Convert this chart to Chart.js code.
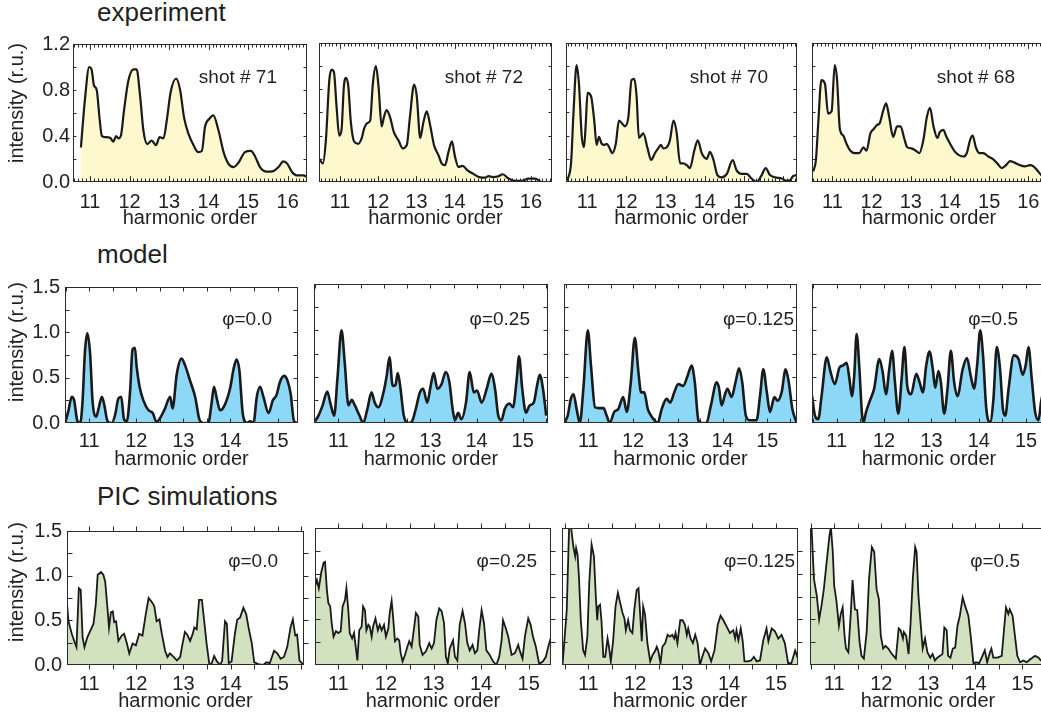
<!DOCTYPE html>
<html>
<head>
<meta charset="utf-8">
<script src="https://cdn.jsdelivr.net/npm/chart.js@4.4.1/dist/chart.umd.min.js"></script>
<style>
  body { margin: 0; width: 1041px; height: 720px; overflow: hidden; background: #fff; position: relative;
         font-family: "Liberation Sans", Arial, sans-serif; color: #231f20; }
  canvas { position: absolute; }
  .titulo { position: absolute; left: 97px; font-size: 26px; line-height: 26px; white-space: nowrap; }
</style>
</head>
<body>
<div class="titulo" style="top:-1px">experiment</div>
<div class="titulo" style="top:241px">model</div>
<div class="titulo" style="top:483px">PIC simulations</div>

<script>
// ejes
const ejeXExp = [11, 12, 13, 14, 15, 16];
const ejeXSim = [11, 12, 13, 14, 15];
const ejeYExp = [0, 0.4, 0.8, 1.2];
const ejeYSim = [0, 0.5, 1.0, 1.5];

// experimento: [orden armónico, intensidad]
const exp71 = [[10.77,0.30],[10.87,0.71],[10.98,1.00],[11.04,0.98],[11.10,0.84],[11.17,0.80],[11.24,0.56],[11.30,0.40],[11.38,0.39],[11.51,0.385],[11.59,0.35],[11.66,0.40],[11.72,0.38],[11.78,0.40],[11.86,0.62],[11.97,0.88],[12.10,0.98],[12.18,0.98],[12.27,0.74],[12.35,0.45],[12.45,0.33],[12.56,0.36],[12.67,0.32],[12.76,0.39],[12.86,0.38],[12.94,0.53],[13.04,0.78],[13.18,0.90],[13.28,0.80],[13.38,0.56],[13.49,0.42],[13.62,0.32],[13.74,0.26],[13.83,0.27],[13.91,0.48],[14.02,0.55],[14.12,0.58],[14.25,0.45],[14.38,0.26],[14.50,0.16],[14.63,0.13],[14.76,0.17],[14.92,0.26],[15.07,0.27],[15.18,0.22],[15.30,0.13],[15.47,0.09],[15.64,0.095],[15.77,0.13],[15.89,0.18],[15.99,0.16],[16.11,0.087],[16.23,0.058],[16.40,0.058],[16.50,0.04]];
const exp72 = [[10.46,0.20],[10.55,0.16],[10.63,0.36],[10.72,0.88],[10.78,0.97],[10.84,0.95],[10.91,0.65],[10.98,0.40],[11.04,0.45],[11.10,0.82],[11.16,0.90],[11.22,0.82],[11.28,0.53],[11.37,0.35],[11.48,0.33],[11.57,0.38],[11.63,0.46],[11.72,0.51],[11.79,0.53],[11.86,0.85],[11.94,1.00],[12.01,0.82],[12.09,0.48],[12.15,0.56],[12.22,0.62],[12.31,0.56],[12.41,0.43],[12.53,0.36],[12.64,0.29],[12.75,0.32],[12.83,0.56],[12.94,0.84],[13.01,0.74],[13.10,0.38],[13.18,0.51],[13.27,0.61],[13.36,0.49],[13.46,0.32],[13.58,0.23],[13.66,0.16],[13.75,0.145],[13.84,0.26],[13.93,0.35],[14.01,0.22],[14.10,0.13],[14.21,0.14],[14.34,0.10],[14.49,0.07],[14.67,0.04],[14.80,0.038],[14.89,0.05],[15.00,0.043],[15.15,0.05],[15.26,0.067],[15.41,0.03],[15.59,0.01],[15.76,0.01],[15.93,0.03],[16.11,0.03],[16.28,0.0],[16.55,0.0]];
const exp70 = [[10.45,0.01],[10.52,0.04],[10.59,0.17],[10.65,0.59],[10.73,1.01],[10.79,0.85],[10.86,0.40],[10.92,0.30],[10.96,0.48],[11.01,0.77],[11.10,0.74],[11.18,0.53],[11.24,0.32],[11.30,0.39],[11.37,0.33],[11.44,0.32],[11.50,0.33],[11.56,0.30],[11.64,0.25],[11.73,0.33],[11.81,0.53],[11.88,0.51],[11.96,0.48],[12.05,0.56],[12.13,0.88],[12.20,0.89],[12.26,0.74],[12.32,0.38],[12.43,0.42],[12.54,0.29],[12.63,0.19],[12.73,0.25],[12.81,0.29],[12.88,0.32],[12.94,0.29],[13.03,0.30],[13.11,0.36],[13.20,0.53],[13.28,0.43],[13.37,0.16],[13.45,0.16],[13.54,0.145],[13.62,0.12],[13.73,0.27],[13.82,0.36],[13.92,0.25],[14.05,0.20],[14.13,0.26],[14.22,0.19],[14.32,0.06],[14.43,0.04],[14.56,0.07],[14.71,0.19],[14.81,0.10],[14.94,0.07],[15.07,0.07],[15.19,0.03],[15.32,0.0],[15.45,0.06],[15.55,0.12],[15.66,0.06],[15.79,0.04],[15.96,0.03],[16.08,0.01],[16.17,0.015],[16.25,0.05],[16.34,0.06]];
const exp68 = [[10.51,0.09],[10.58,0.19],[10.64,0.51],[10.72,0.88],[10.81,0.85],[10.89,0.59],[10.98,0.61],[11.06,1.01],[11.12,0.88],[11.19,0.46],[11.28,0.40],[11.36,0.33],[11.46,0.27],[11.57,0.25],[11.69,0.25],[11.79,0.30],[11.87,0.27],[11.97,0.42],[12.06,0.46],[12.13,0.49],[12.21,0.51],[12.30,0.62],[12.37,0.68],[12.45,0.56],[12.55,0.39],[12.65,0.48],[12.74,0.48],[12.83,0.38],[12.91,0.30],[13.02,0.29],[13.13,0.27],[13.22,0.25],[13.32,0.36],[13.41,0.56],[13.49,0.64],[13.58,0.48],[13.68,0.38],[13.74,0.43],[13.83,0.45],[13.91,0.39],[14.02,0.32],[14.13,0.26],[14.24,0.23],[14.34,0.22],[14.43,0.25],[14.51,0.36],[14.58,0.40],[14.66,0.30],[14.75,0.25],[14.85,0.25],[14.98,0.22],[15.09,0.20],[15.21,0.16],[15.32,0.12],[15.43,0.145],[15.53,0.18],[15.66,0.165],[15.79,0.145],[15.91,0.135],[16.04,0.145],[16.13,0.135],[16.23,0.10],[16.33,0.06],[16.45,0.04]];

// modelo
const mod00 = [[10.49,0],[10.56,0.14],[10.63,0.29],[10.68,0.25],[10.75,0.02],[10.81,0],[10.86,0.25],[10.91,0.79],[10.96,0.99],[11.02,0.76],[11.07,0.25],[11.15,0.07],[11.20,0.16],[11.27,0.29],[11.32,0.20],[11.39,0.02],[11.48,0],[11.55,0.09],[11.62,0.27],[11.68,0.29],[11.74,0.04],[11.80,0.02],[11.87,0.36],[11.92,0.81],[11.97,0.83],[12.01,0.61],[12.07,0.40],[12.15,0.25],[12.26,0.14],[12.35,0.11],[12.43,0.01],[12.50,0.05],[12.61,0.16],[12.72,0.29],[12.77,0.16],[12.86,0.54],[12.96,0.71],[13.04,0.63],[13.14,0.47],[13.25,0.29],[13.34,0.04],[13.42,0],[13.53,0],[13.60,0.22],[13.65,0.40],[13.71,0.27],[13.78,0.14],[13.88,0.20],[14.00,0.40],[14.06,0.58],[14.13,0.70],[14.19,0.58],[14.26,0.11],[14.35,0],[14.42,0.02],[14.49,0],[14.56,0.29],[14.63,0.40],[14.70,0.29],[14.81,0.11],[14.90,0.25],[14.98,0.31],[15.05,0.45],[15.14,0.52],[15.21,0.47],[15.28,0.32],[15.35,0.02],[15.43,0]];
const mod025 = [[10.47,0],[10.57,0.08],[10.66,0.19],[10.76,0.34],[10.83,0.21],[10.91,0.08],[10.98,0.47],[11.07,1.00],[11.14,0.65],[11.22,0.19],[11.29,0.25],[11.36,0.19],[11.46,0.08],[11.54,0],[11.63,0.15],[11.72,0.33],[11.79,0.22],[11.87,0.17],[11.98,0.33],[12.05,0.51],[12.11,0.71],[12.18,0.40],[12.24,0.41],[12.29,0.54],[12.35,0.37],[12.42,0.08],[12.52,0],[12.59,0.01],[12.68,0.15],[12.77,0.33],[12.84,0.37],[12.93,0.22],[13.00,0.39],[13.07,0.54],[13.15,0.37],[13.24,0.42],[13.33,0.55],[13.41,0.44],[13.48,0.15],[13.53,0.03],[13.60,0.11],[13.67,0.04],[13.77,0.22],[13.85,0.55],[13.94,0.33],[14.01,0.35],[14.11,0.22],[14.22,0.37],[14.32,0.53],[14.40,0.37],[14.47,0.08],[14.54,0.03],[14.61,0.15],[14.71,0.21],[14.79,0.17],[14.87,0.47],[14.92,0.72],[14.99,0.37],[15.07,0.11],[15.15,0.19],[15.24,0.22],[15.31,0.40],[15.37,0.52],[15.44,0.37],[15.51,0.08]];
const mod0125 = [[10.46,0],[10.54,0.08],[10.61,0.26],[10.67,0.31],[10.74,0.15],[10.81,0],[10.89,0.37],[10.99,1.00],[11.06,0.62],[11.15,0.17],[11.24,0.16],[11.34,0.16],[11.41,0.08],[11.48,0],[11.58,0.12],[11.67,0.15],[11.78,0.28],[11.86,0.12],[11.95,0.44],[12.04,0.92],[12.12,0.55],[12.18,0.33],[12.25,0.33],[12.33,0.15],[12.43,0.06],[12.55,0],[12.64,0.15],[12.75,0.26],[12.83,0.22],[12.92,0.33],[13.01,0.42],[13.12,0.40],[13.22,0.51],[13.31,0.62],[13.38,0.44],[13.46,0.03],[13.53,0],[13.64,0],[13.74,0.19],[13.87,0.44],[13.92,0.38],[13.98,0.19],[14.05,0.30],[14.11,0.37],[14.20,0.28],[14.29,0.44],[14.37,0.59],[14.44,0.44],[14.52,0.08],[14.61,0.03],[14.76,0.03],[14.84,0.30],[14.91,0.58],[14.99,0.33],[15.06,0.12],[15.16,0.28],[15.23,0.24],[15.32,0.33],[15.41,0.58],[15.48,0.44],[15.56,0.15],[15.66,0]];
const mod05 = [[10.48,0.29],[10.54,0.08],[10.61,0.04],[10.68,0.29],[10.79,0.71],[10.87,0.55],[10.96,0.42],[11.06,0.60],[11.13,0.62],[11.21,0.65],[11.27,0.47],[11.32,0.29],[11.37,0.51],[11.42,0.96],[11.48,0.58],[11.53,0.12],[11.56,0],[11.62,0.12],[11.70,0.24],[11.79,0.37],[11.90,0.69],[11.97,0.55],[12.04,0.31],[12.11,0.58],[12.17,0.78],[12.23,0.44],[12.30,0.10],[12.37,0.47],[12.43,0.82],[12.49,0.40],[12.57,0.31],[12.68,0.53],[12.75,0.44],[12.82,0.33],[12.89,0.62],[12.96,0.77],[13.03,0.58],[13.08,0.38],[13.15,0.56],[13.20,0.44],[13.27,0.10],[13.34,0.37],[13.41,0.78],[13.48,0.44],[13.55,0.29],[13.66,0.58],[13.75,0.70],[13.83,0.51],[13.90,0.37],[13.97,0.65],[14.03,1.00],[14.09,0.73],[14.16,0.15],[14.24,0.01],[14.31,0.26],[14.38,0.82],[14.45,0.58],[14.51,0.15],[14.56,0.08],[14.63,0.37],[14.74,0.73],[14.84,0.69],[14.93,0.52],[14.99,0.62],[15.05,0.82],[15.12,0.47],[15.19,0.12],[15.26,0.03],[15.32,0.24],[15.40,0.40]];

// simulaciones PIC
const pic00 = [[10.52,0.75],[10.56,0.49],[10.63,0.35],[10.70,0.24],[10.73,0.20],[10.78,0.86],[10.82,0.84],[10.86,0.31],[10.90,0.20],[10.96,0.31],[11.02,0.38],[11.09,0.46],[11.14,0.68],[11.18,1.01],[11.25,1.04],[11.30,1.01],[11.34,0.93],[11.39,0.62],[11.42,0.42],[11.46,0.59],[11.50,0.60],[11.53,0.48],[11.57,0.49],[11.62,0.27],[11.69,0.33],[11.74,0.35],[11.80,0.24],[11.85,0.13],[11.92,0.24],[11.99,0.22],[12.06,0.35],[12.13,0.33],[12.20,0.57],[12.26,0.75],[12.32,0.71],[12.38,0.66],[12.43,0.49],[12.49,0.51],[12.54,0.35],[12.61,0.16],[12.66,0.09],[12.71,0.13],[12.79,0.09],[12.86,0.05],[12.93,0.09],[12.98,0.24],[13.03,0.37],[13.08,0.34],[13.14,0.27],[13.19,0.34],[13.23,0.42],[13.28,0.40],[13.33,0.73],[13.39,0.73],[13.44,0.49],[13.49,0.24],[13.55,0],[13.60,0.02],[13.65,0.10],[13.71,0.04],[13.78,0],[13.82,0.05],[13.88,0.49],[13.92,0.46],[13.96,0.02],[14.02,0.04],[14.09,0.35],[14.14,0.51],[14.20,0.53],[14.27,0.64],[14.33,0.57],[14.38,0.42],[14.45,0.24],[14.50,0.03],[14.59,0.01],[14.69,0],[14.76,0.03],[14.83,0.02],[14.92,0.16],[14.99,0.13],[15.06,0.07],[15.13,0.09],[15.20,0.20],[15.27,0.42],[15.32,0.51],[15.37,0.33],[15.41,0.34],[15.46,0.05],[15.53,0.01]];
const pic025 = [[10.51,0.86],[10.55,0.93],[10.59,0.84],[10.64,1.01],[10.69,1.12],[10.72,1.13],[10.76,0.82],[10.79,0.68],[10.83,0.64],[10.86,0.46],[10.90,0.31],[10.95,0.37],[11.00,0.35],[11.05,0.37],[11.09,0.64],[11.14,0.71],[11.17,0.84],[11.21,0.60],[11.24,0.35],[11.29,0.29],[11.33,0.35],[11.37,0.18],[11.40,0.05],[11.44,0.38],[11.49,0.42],[11.52,0.64],[11.56,0.60],[11.59,0.38],[11.63,0.44],[11.66,0.42],[11.70,0.31],[11.73,0.42],[11.78,0.51],[11.83,0.38],[11.87,0.44],[11.91,0.38],[11.96,0.44],[12.00,0.31],[12.05,0.40],[12.08,0.57],[12.12,0.70],[12.15,0.53],[12.19,0.26],[12.24,0.29],[12.28,0.27],[12.31,0.13],[12.35,0.04],[12.40,0.11],[12.45,0.20],[12.49,0.26],[12.54,0.20],[12.59,0.40],[12.63,0.57],[12.68,0.53],[12.71,0.22],[12.77,0.11],[12.84,0.15],[12.91,0.24],[12.96,0.18],[13.01,0.24],[13.06,0.49],[13.12,0.62],[13.17,0.59],[13.22,0.46],[13.26,0.09],[13.30,0.02],[13.34,0.18],[13.41,0.27],[13.45,0.09],[13.50,0.05],[13.55,0.44],[13.61,0.59],[13.66,0.46],[13.71,0.24],[13.76,0.16],[13.82,0.22],[13.87,0.13],[13.92,0.16],[13.96,0.38],[14.01,0.60],[14.06,0.46],[14.11,0.16],[14.18,0.11],[14.25,0.04],[14.32,0],[14.38,0.09],[14.43,0.27],[14.46,0.49],[14.52,0.40],[14.57,0.31],[14.64,0.11],[14.71,0.13],[14.78,0.22],[14.81,0.16],[14.87,0.07],[14.92,0.31],[14.99,0.51],[15.04,0.44],[15.09,0.31],[15.15,0.20],[15.22,0.01],[15.30,0.04],[15.36,0.09],[15.41,0.20],[15.46,0.29]];
const pic0125 = [[10.45,0],[10.54,0.60],[10.59,1.50],[10.63,1.52],[10.68,1.30],[10.72,1.19],[10.74,1.28],[10.77,1.21],[10.80,0.97],[10.84,0.49],[10.89,0.16],[10.93,0.11],[10.98,0.31],[11.02,0.90],[11.07,1.32],[11.12,1.19],[11.16,0.75],[11.19,0.49],[11.21,0.64],[11.25,0.66],[11.28,0.49],[11.32,0.09],[11.36,0.09],[11.41,0.29],[11.44,0.20],[11.48,0.04],[11.53,0.27],[11.58,0.64],[11.63,0.79],[11.68,0.68],[11.73,0.57],[11.77,0.51],[11.80,0.38],[11.85,0.49],[11.89,0.38],[11.94,0.35],[11.98,0.60],[12.03,0.82],[12.07,0.84],[12.10,0.60],[12.14,0.26],[12.17,0.64],[12.21,0.55],[12.26,0.24],[12.32,0.04],[12.37,0.11],[12.42,0.15],[12.46,0.20],[12.49,0.16],[12.54,0.02],[12.58,0.20],[12.64,0.24],[12.69,0.33],[12.74,0.31],[12.79,0.33],[12.83,0.29],[12.86,0.35],[12.90,0.24],[12.96,0.49],[13.01,0.49],[13.06,0.44],[13.10,0.33],[13.13,0.40],[13.18,0.29],[13.23,0.24],[13.28,0.33],[13.33,0.24],[13.38,0],[13.43,0.09],[13.49,0.18],[13.56,0.13],[13.62,0.04],[13.69,0.16],[13.76,0.44],[13.82,0.54],[13.88,0.49],[13.95,0.42],[14.02,0.35],[14.09,0.38],[14.13,0.29],[14.16,0.38],[14.20,0.27],[14.25,0.40],[14.29,0.27],[14.33,0.04],[14.40,0.04],[14.47,0.05],[14.53,0.09],[14.59,0.04],[14.66,0.05],[14.73,0.27],[14.80,0.40],[14.84,0.26],[14.91,0.40],[14.98,0.37],[15.05,0.29],[15.12,0.33],[15.19,0.24],[15.26,0.02],[15.33,0.02],[15.41,0.16],[15.47,0.07]];
const pic05 = [[10.49,1.53],[10.52,1.49],[10.57,0.94],[10.63,0.76],[10.68,0.50],[10.73,0.65],[10.78,0.83],[10.84,1.13],[10.90,1.42],[10.93,1.51],[10.97,1.24],[11.00,0.87],[11.05,0.69],[11.10,0.43],[11.14,0.56],[11.18,0.63],[11.22,0.32],[11.25,0.18],[11.30,0.14],[11.35,0.54],[11.39,0.93],[11.44,0.61],[11.49,0.60],[11.54,0.25],[11.58,0.10],[11.63,0.07],[11.69,0.36],[11.74,0.94],[11.80,1.29],[11.85,1.24],[11.90,0.83],[11.95,0.72],[11.99,0.32],[12.04,0.18],[12.09,0.21],[12.15,0.18],[12.20,0.14],[12.26,0.10],[12.31,0.07],[12.37,0.40],[12.41,0.38],[12.46,0.29],[12.48,0.36],[12.53,0.32],[12.58,0.12],[12.62,0.43],[12.67,0.94],[12.72,1.29],[12.75,1.24],[12.79,0.76],[12.84,0.43],[12.88,0.18],[12.93,0.29],[12.98,0.14],[13.04,0.08],[13.09,0.12],[13.14,0.05],[13.19,0.08],[13.25,0.10],[13.30,0.12],[13.34,0.41],[13.39,0.38],[13.42,0.10],[13.47,0.08],[13.52,0.18],[13.57,0.19],[13.62,0.43],[13.67,0.54],[13.73,0.74],[13.78,0.65],[13.85,0.54],[13.90,0.32],[13.96,0.01],[14.01,0.03],[14.08,0.02],[14.15,0.10],[14.20,0.16],[14.25,0.03],[14.31,0.14],[14.34,0.18],[14.38,0.08],[14.47,0.08],[14.56,0.10],[14.61,0.40],[14.65,0.63],[14.70,0.56],[14.73,0.61],[14.79,0.54],[14.84,0.32],[14.89,0.10],[14.95,0.03],[15.02,0.05],[15.09,0.03],[15.16,0.06],[15.27,0.10],[15.34,0.08],[15.39,0.05],[15.45,0.05]];

Chart.defaults.font.family = '"Liberation Sans", Arial, sans-serif';
Chart.defaults.color = '#231f20';

// estilo de cada fila
const filas = [
    { relleno: '#FEF8CF', grosor: 2.2, suave: true, yMax: 1.2, yTicks: ejeYExp, xTicks: ejeXExp,
      top: 43, bottom: 182, padTicks: 8, padY: 3, xPaso: 0.1, yPaso: 0.2, largo: 3, mayor: 1.8, xFuera: false, derFuera: false,
      base: 83, tituloY: 103 },
    { relleno: '#8DD8F7', grosor: 2.6, suave: true, yMax: 1.5, yTicks: ejeYSim, xTicks: ejeXSim,
      top: 284, bottom: 423, padTicks: 6, padY: 5, xPaso: 0.5, yPaso: 0.25, largo: 4, mayor: 1, xFuera: false, derFuera: false,
      base: 325, tituloY: 342 },
    { relleno: '#D2E1C0', grosor: 1.8, suave: false, yMax: 1.5, yTicks: ejeYSim, xTicks: ejeXSim,
      top: 528, bottom: 665, padTicks: 7, padY: 5, xPaso: 0.5, yPaso: 0.25, largo: 5, mayor: 1, xFuera: true, derFuera: true,
      base: 567, tituloY: 582 }
];

const paneles = [
    { fila: 0, col: 0, datos: exp71, texto: 'shot # 71', izq: 73,  der: 307,  xMin: 10.57, xMax: 16.49, tx: 277 },
    { fila: 0, col: 1, datos: exp72, texto: 'shot # 72', izq: 319, der: 552,  xMin: 10.45, xMax: 16.55, tx: 523 },
    { fila: 0, col: 2, datos: exp70, texto: 'shot # 70', izq: 566, der: 797,  xMin: 10.46, xMax: 16.35, tx: 768 },
    { fila: 0, col: 3, datos: exp68, texto: 'shot # 68', izq: 812, der: 1046, xMin: 10.48, xMax: 16.45, tx: 1015 },
    { fila: 1, col: 0, datos: mod00,   texto: 'φ=0.0',   izq: 65,  der: 298,  xMin: 10.486, xMax: 15.435, tx: 272 },
    { fila: 1, col: 1, datos: mod025,  texto: 'φ=0.25',  izq: 314, der: 548,  xMin: 10.473, xMax: 15.549, tx: 530 },
    { fila: 1, col: 2, datos: mod0125, texto: 'φ=0.125', izq: 564, der: 797,  xMin: 10.457, xMax: 15.664, tx: 794 },
    { fila: 1, col: 3, datos: mod05,   texto: 'φ=0.5',   izq: 812, der: 1046, xMin: 10.478, xMax: 15.42,  tx: 1018 },
    { fila: 2, col: 0, datos: pic00,   texto: 'φ=0.0',   izq: 67,  der: 304,  xMin: 10.529, xMax: 15.556, tx: 278 },
    { fila: 2, col: 1, datos: pic025,  texto: 'φ=0.25',  izq: 315, der: 551,  xMin: 10.51,  xMax: 15.468, tx: 537 },
    { fila: 2, col: 2, datos: pic0125, texto: 'φ=0.125', izq: 562, der: 798,  xMin: 10.439, xMax: 15.471, tx: 795 },
    { fila: 2, col: 3, datos: pic05,   texto: 'φ=0.5',   izq: 810, der: 1046, xMin: 10.486, xMax: 15.50,  tx: 1020 }
];

// marco con ticks, etiqueta del panel y título del eje y
const marco = {
    id: 'marco',
    afterDraw(chart, args, o) {
        const { ctx, chartArea: a, scales: { x, y } } = chart;
        const L = a.left + 0.5, R = a.right - 0.5, T = a.top + 0.5, B = a.bottom - 0.5;
        ctx.save();
        ctx.strokeStyle = '#2b2b2b';
        ctx.lineWidth = 1;
        ctx.strokeRect(L, T, R - L, B - T);
        ctx.beginPath();
        const dx = o.xFuera ? -1 : 1;
        for (let k = Math.ceil(x.min / o.xPaso - 1e-6); k * o.xPaso <= x.max + 1e-6; k++) {
            const v = k * o.xPaso;
            const px = Math.round(x.getPixelForValue(v)) + 0.5;
            const len = Math.abs(v - Math.round(v)) < 1e-6 ? o.largo * o.mayor : o.largo;
            ctx.moveTo(px, T); ctx.lineTo(px, T + dx * len);
            ctx.moveTo(px, B); ctx.lineTo(px, B - dx * len);
        }
        const dr = o.derFuera ? -1 : 1;
        for (let k = 1; k * o.yPaso < y.max - 1e-6; k++) {
            const py = Math.round(y.getPixelForValue(k * o.yPaso)) + 0.5;
            ctx.moveTo(L, py); ctx.lineTo(L + o.largo, py);
            ctx.moveTo(R, py); ctx.lineTo(R - dr * o.largo, py);
        }
        ctx.stroke();

        ctx.fillStyle = '#231f20';
        ctx.font = '19px "Liberation Sans", Arial, sans-serif';
        ctx.textAlign = 'right';
        ctx.textBaseline = 'alphabetic';
        ctx.fillText(o.texto, o.tx, o.ty);

        if (o.tituloY !== null) {
            ctx.font = '20px "Liberation Sans", Arial, sans-serif';
            ctx.translate(17, o.tituloY);
            ctx.rotate(-Math.PI / 2);
            ctx.textAlign = 'center';
            ctx.textBaseline = 'middle';
            ctx.fillText('intensity (r.u.)', 0, 0);
        }
        ctx.restore();
    }
};

paneles.forEach((p, i) => {
    const f = filas[p.fila];
    const anchoY = p.col === 0 ? p.izq : 10;
    const padTop = 14, padDer = 12, altoX = 48;
    const izqCanvas = p.izq - anchoY;
    const topCanvas = f.top - padTop;

    const canvas = document.createElement('canvas');
    canvas.id = 'panel_' + i;
    canvas.width = anchoY + (p.der - p.izq) + padDer;
    canvas.height = padTop + (f.bottom - f.top) + altoX;
    canvas.style.left = izqCanvas + 'px';
    canvas.style.top = topCanvas + 'px';
    document.body.appendChild(canvas);

    new Chart(canvas.getContext('2d'), {
        type: 'line',
        data: {
            datasets: [{
                data: p.datos.map(d => ({ x: d[0], y: d[1] })),
                borderColor: '#1a1a1a',
                borderWidth: f.grosor,
                backgroundColor: f.relleno,
                fill: 'origin',
                pointRadius: 0,
                tension: f.suave ? 0.4 : 0,
                cubicInterpolationMode: f.suave ? 'monotone' : 'default'
            }]
        },
        options: {
            responsive: false,
            animation: false,
            events: [],
            layout: { padding: { top: padTop, right: padDer, left: 0, bottom: 0 } },
            scales: {
                x: {
                    type: 'linear',
                    min: p.xMin,
                    max: p.xMax,
                    grid: { display: false, drawTicks: false },
                    border: { display: false },
                    ticks: { font: { size: 20 }, padding: f.padTicks, autoSkip: false, maxRotation: 0 },
                    afterBuildTicks: s => { s.ticks = f.xTicks.map(v => ({ value: v })); },
                    afterFit: s => { s.height = altoX; },
                    title: { display: true, text: 'harmonic order', font: { size: 20 }, padding: { top: 0, bottom: 0 } }
                },
                y: {
                    min: 0,
                    max: f.yMax,
                    grid: { display: false, drawTicks: false },
                    border: { display: false },
                    ticks: { display: p.col === 0, font: { size: 20 }, padding: f.padY, callback: v => v.toFixed(1) },
                    afterBuildTicks: s => { s.ticks = f.yTicks.map(v => ({ value: v })); },
                    afterFit: s => { s.width = anchoY; }
                }
            },
            plugins: {
                legend: { display: false },
                tooltip: { enabled: false },
                marco: {
                    xPaso: f.xPaso, yPaso: f.yPaso, largo: f.largo, mayor: f.mayor,
                    xFuera: f.xFuera, derFuera: f.derFuera,
                    texto: p.texto, tx: p.tx - izqCanvas, ty: f.base - topCanvas,
                    tituloY: p.col === 0 ? f.tituloY - topCanvas : null
                }
            }
        },
        plugins: [marco]
    });
});
</script>
</body>
</html>
